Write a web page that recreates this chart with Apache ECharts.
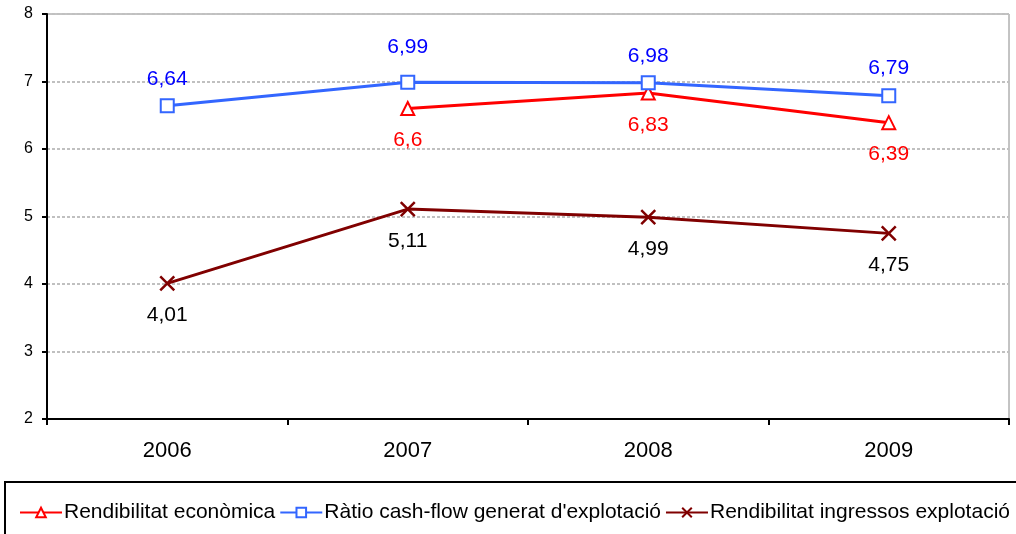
<!DOCTYPE html>
<html><head><meta charset="utf-8">
<script src="https://cdn.jsdelivr.net/npm/echarts@6/dist/echarts.min.js"></script>
<style>html,body{margin:0;padding:0;background:#fff}#c{width:1016px;height:534px}</style>
</head><body><div id="c"></div>
<script>
const categories = ['2006', '2007', '2008', '2009'];
const rendEconomica = [null, 6.6, 6.83, 6.39];
const ratioCashFlow = [6.64, 6.99, 6.98, 6.79];
const rendIngressos = [4.01, 5.11, 4.99, 4.75];
const yTicks = [2, 3, 4, 5, 6, 7, 8];

const fmt = v => String(v.value).replace('.', ',');
const chart = echarts.init(document.getElementById('c'));
const FONT = 'Liberation Sans, Arial, sans-serif';
// the 2007 label of the blue series sits a bit higher in the original
const ratioData = ratioCashFlow.map((v, i) => i === 1 ? { value: v, label: { distance: 17 } } : v);
chart.setOption({
  animation: false,
  textStyle: { fontFamily: FONT },
  grid: { left: 47, right: 7, top: 14, bottom: 115, show: true, borderColor: '#888', borderWidth: 1 },
  graphic: [{ type: 'rect', shape: { x: 5, y: 482, width: 1020, height: 60 }, style: { fill: 'none', stroke: '#000', lineWidth: 2 }, z: 0 }],
  legend: {
    left: 14, top: 497, itemGap: 4, itemWidth: 42, itemHeight: 12,
    textStyle: { fontSize: 21, color: '#000', fontFamily: FONT, padding: [0, 0, 0, -3] },
    data: ['Rendibilitat econòmica', "Ràtio cash-flow generat d'explotació", 'Rendibilitat ingressos explotació']
  },
  xAxis: {
    type: 'category', data: categories, boundaryGap: true,
    axisLine: { lineStyle: { color: '#000', width: 2 } },
    axisTick: { show: true, length: 6, lineStyle: { color: '#000', width: 2 } },
    axisLabel: { fontSize: 22, color: '#000', margin: 21 },
    splitLine: { show: false }
  },
  yAxis: {
    type: 'value', min: yTicks[0], max: yTicks[yTicks.length - 1], interval: 1,
    axisLine: { show: true, lineStyle: { color: '#000', width: 2 } },
    axisTick: { show: true, length: 5, lineStyle: { color: '#000', width: 2 } },
    axisLabel: { fontSize: 16, color: '#000', margin: 14 },
    splitLine: { show: true, lineStyle: { color: '#c0c0c0', type: [3, 2], width: 2 } }
  },
  series: [
    {
      name: 'Rendibilitat econòmica', type: 'line', data: rendEconomica,
      symbol: 'triangle', symbolSize: 13, connectNulls: false,
      lineStyle: { color: '#ff0000', width: 3 },
      itemStyle: { color: '#fff', borderColor: '#ff0000', borderWidth: 2 },
      label: { show: true, position: 'bottom', distance: 14, fontSize: 21, color: '#ff0000', formatter: fmt },
      z: 3
    },
    {
      name: "Ràtio cash-flow generat d'explotació", type: 'line', data: ratioData,
      symbol: 'rect', symbolSize: 13,
      lineStyle: { color: '#3366ff', width: 3 },
      itemStyle: { color: '#fff', borderColor: '#3366ff', borderWidth: 2 },
      label: { show: true, position: 'top', distance: 9, fontSize: 21, color: '#0000ff', formatter: fmt },
      z: 4
    },
    {
      name: 'Rendibilitat ingressos explotació', type: 'line', data: rendIngressos,
      symbol: 'path://M0,0L10,10M10,0L0,10', symbolSize: 14,
      lineStyle: { color: '#800000', width: 3 },
      itemStyle: { color: 'none', borderColor: '#800000', borderWidth: 2.5 },
      label: { show: true, position: 'bottom', distance: 12, fontSize: 21, color: '#000', formatter: fmt },
      z: 3
    }
  ]
});
</script></body></html>
